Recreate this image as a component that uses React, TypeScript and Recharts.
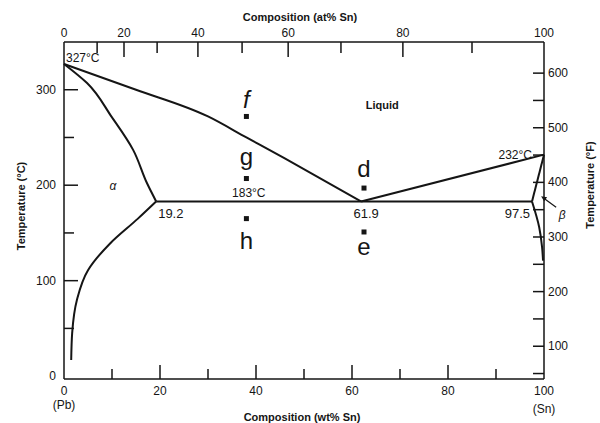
import { ComposedChart, Line, Scatter, XAxis, YAxis, ReferenceDot } from 'recharts';

// Pb–Sn phase diagram, composition in wt% Sn, temperature in °C
const LIQUIDUS_PB = [
  { w: 0, t: 327 }, { w: 15, t: 300 }, { w: 30, t: 272 }, { w: 38, t: 250 }, { w: 46, t: 228 }, { w: 61.9, t: 183 },
];
const SOLIDUS_PB = [
  { w: 0, t: 327 }, { w: 4.8, t: 307 }, { w: 10, t: 271 }, { w: 14.4, t: 237 }, { w: 17.3, t: 202 }, { w: 19.2, t: 183 },
];
const SOLVUS_PB = [
  { w: 19.2, t: 183 }, { w: 15.4, t: 165 }, { w: 9.6, t: 139 }, { w: 5, t: 111 }, { w: 2.7, t: 80 }, { w: 1.7, t: 45 }, { w: 1.5, t: 17 },
];
const LIQUIDUS_SN = [{ w: 61.9, t: 183 }, { w: 100, t: 232 }];
const SOLIDUS_SN = [{ w: 100, t: 232 }, { w: 97.5, t: 183 }];
const SOLVUS_SN = [{ w: 97.5, t: 183 }, { w: 99, t: 156 }, { w: 99.6, t: 135 }, { w: 99.8, t: 121 }];
const EUTECTIC = [{ w: 19.2, t: 183 }, { w: 97.5, t: 183 }];

const POINTS = [
  { w: 38, t: 272, id: 'f' },
  { w: 38, t: 207, id: 'g' },
  { w: 38, t: 165, id: 'h' },
  { w: 62.5, t: 197, id: 'd' },
  { w: 62.5, t: 151, id: 'e' },
];

// axis ticks
const WT_TICKS = [0, 10, 20, 30, 40, 50, 60, 70, 80, 90, 100];
const C_TICKS = [0, 50, 100, 150, 200, 250, 300];
const F_TICKS = [50, 100, 150, 200, 250, 300, 350, 400, 450, 500, 550, 600];
const F_RANGE = [{ w: 0, t: 40 }, { w: 100, t: 657 }];
const AT_LABELS = [0, 10, 20, 30, 40, 50, 60, 70, 80, 90, 100];
const AT_TICK_POS = [0, 6.9, 12.5, 19.4, 27.9, 37.1, 46.7, 57.7, 70.6, 85, 100]; // wt% where each at% tick sits

const FONT = '"Liberation Sans", Arial, sans-serif';
const INK = '#151515';

const BottomTick = ({ x, y, payload }: any) => {
  const v = payload.value;
  const major = v % 20 === 0;
  return (
    <g>
      {v > 0 && v < 100 && <line x1={x} x2={x} y1={y} y2={y - (major ? 14 : 10)} stroke={INK} strokeWidth={1.5} />}
      {major && <text x={x} y={y + 16} textAnchor="middle" fontSize={12} fontFamily={FONT} fill={INK}>{v}</text>}
      {v === 0 && <text x={x} y={y + 30} textAnchor="middle" fontSize={12} fontFamily={FONT} fill={INK}>(Pb)</text>}
      {v === 100 && <text x={x} y={y + 34} textAnchor="middle" fontSize={12} fontFamily={FONT} fill={INK}>(Sn)</text>}
    </g>
  );
};

const TopTick = ({ x, y, payload }: any) => {
  const i = AT_TICK_POS.indexOf(payload.value);
  const v = AT_LABELS[i];
  const major = v % 20 === 0;
  return (
    <g>
      {v > 0 && v < 100 && <line x1={x} x2={x} y1={y} y2={y + (major ? 15 : 11)} stroke={INK} strokeWidth={1.5} />}
      {major && <text x={x} y={y - 5} textAnchor="middle" fontSize={12} fontFamily={FONT} fill={INK}>{v}</text>}
    </g>
  );
};

const LeftTick = ({ x, y, payload }: any) => {
  const v = payload.value;
  const major = v % 100 === 0;
  return (
    <g>
      {v > 0 && <line x1={x} x2={x + (major ? 14 : 10)} y1={y} y2={y} stroke={INK} strokeWidth={1.5} />}
      {major && <text x={x - 8} y={y + 4} textAnchor="end" fontSize={12} fontFamily={FONT} fill={INK}>{v}</text>}
    </g>
  );
};

const RightTick = ({ x, y, payload }: any) => {
  const v = payload.value;
  const major = v % 100 === 0;
  return (
    <g>
      <line x1={x} x2={x - 11} y1={y} y2={y} stroke={INK} strokeWidth={1.5} />
      {major && <text x={x + 4} y={y + 4} textAnchor="start" fontSize={12} fontFamily={FONT} fill={INK}>{v}</text>}
    </g>
  );
};

const LETTER_DY: Record<string, number> = { f: -8, g: -14, d: -11, h: 30, e: 23 };

const PointMark = ({ cx, cy, payload }: any) => (
  <g>
    <rect x={cx - 2.5} y={cy - 2.5} width={5} height={5} fill={INK} />
    <text
      x={cx}
      y={cy + LETTER_DY[payload.id]}
      textAnchor="middle"
      fontSize={24}
      fontFamily={FONT}
      fontStyle={payload.id === 'f' ? 'italic' : 'normal'}
      fill={INK}
    >
      {payload.id}
    </text>
  </g>
);

const note = (text: string, dx: number, dy: number, anchor: string, size = 12, extra: any = {}) =>
  ({ cx, cy }: any) => (
    <text x={cx + dx} y={cy + dy} textAnchor={anchor} fontSize={size} fontFamily={FONT} fill={INK} {...extra}>
      {text}
    </text>
  );

const BetaArrow = ({ cx, cy }: any) => (
  <g>
    <line x1={cx + 15} y1={cy + 11} x2={cx + 2} y2={cy + 1.5} stroke={INK} strokeWidth={1.2} />
    <polygon points={`${cx},${cy} ${cx + 6},${cy + 1} ${cx + 3},${cy + 5}`} fill={INK} />
    <text x={cx + 21} y={cy + 23} textAnchor="middle" fontSize={12} fontStyle="italic" fontFamily={FONT} fill={INK}>β</text>
  </g>
);

const lineProps = {
  xAxisId: 'wt',
  yAxisId: 'c',
  dataKey: 't',
  stroke: INK,
  strokeWidth: 2,
  dot: false,
  activeDot: false,
  isAnimationActive: false,
} as const;

export default function App() {
  return (
    <div style={{ position: 'absolute', left: 0, top: 0, background: '#fff' }}>
      <ComposedChart width={600} height={423} margin={{ top: 22, right: 16, bottom: 14, left: 24 }}>
        <XAxis
          xAxisId="wt"
          dataKey="w"
          type="number"
          domain={[0, 100]}
          ticks={WT_TICKS}
          interval={0}
          height={30}
          tickSize={0}
          tickMargin={0}
          tickLine={false}
          tick={BottomTick}
          axisLine={{ stroke: INK, strokeWidth: 1.5 }}
        />
        <XAxis
          xAxisId="at"
          orientation="top"
          dataKey="w"
          type="number"
          domain={[0, 100]}
          ticks={AT_TICK_POS}
          interval={0}
          height={20}
          tickSize={0}
          tickMargin={0}
          tickLine={false}
          tick={TopTick}
          axisLine={{ stroke: INK, strokeWidth: 1.5 }}
        />
        <YAxis
          yAxisId="c"
          dataKey="t"
          type="number"
          domain={[-3, 350]}
          ticks={C_TICKS}
          interval={0}
          width={40}
          tickSize={0}
          tickMargin={0}
          tickLine={false}
          tick={LeftTick}
          axisLine={{ stroke: INK, strokeWidth: 1.5 }}
        />
        <YAxis
          yAxisId="f"
          orientation="right"
          dataKey="t"
          type="number"
          domain={[40, 657]}
          ticks={F_TICKS}
          interval={0}
          width={40}
          tickSize={0}
          tickMargin={0}
          tickLine={false}
          tick={RightTick}
          axisLine={{ stroke: INK, strokeWidth: 1.5 }}
        />

        {/* invisible series so the at% and °F axes get a scale */}
        <Line xAxisId="at" yAxisId="f" dataKey="t" data={F_RANGE} stroke="none" dot={false} activeDot={false} isAnimationActive={false} />

        <Line {...lineProps} data={LIQUIDUS_PB} type="monotone" />
        <Line {...lineProps} data={SOLIDUS_PB} type="monotoneY" />
        <Line {...lineProps} data={SOLVUS_PB} type="monotoneY" />
        <Line {...lineProps} data={LIQUIDUS_SN} type="linear" />
        <Line {...lineProps} data={SOLIDUS_SN} type="linear" />
        <Line {...lineProps} data={SOLVUS_SN} type="monotoneY" />
        <Line {...lineProps} data={EUTECTIC} type="linear" />

        <Scatter xAxisId="wt" yAxisId="c" data={POINTS} dataKey="t" shape={PointMark} isAnimationActive={false} />

        <ReferenceDot xAxisId="wt" yAxisId="c" x={0} y={327} r={0} ifOverflow="visible" shape={note('327°C', 2, -2, 'start')} />
        <ReferenceDot xAxisId="wt" yAxisId="c" x={66.3} y={280} r={0} ifOverflow="visible" shape={note('Liquid', 0, 0, 'middle', 11, { fontWeight: 'bold' })} />
        <ReferenceDot xAxisId="wt" yAxisId="c" x={100} y={232} r={0} ifOverflow="visible" shape={note('232°C', -12, 4, 'end')} />
        <ReferenceDot xAxisId="wt" yAxisId="c" x={10.2} y={195} r={0} ifOverflow="visible" shape={note('α', 0, 0, 'middle', 12, { fontStyle: 'italic' })} />
        <ReferenceDot xAxisId="wt" yAxisId="c" x={38.5} y={183} r={0} ifOverflow="visible" shape={note('183°C', 0, -4, 'middle')} />
        <ReferenceDot xAxisId="wt" yAxisId="c" x={19.2} y={183} r={0} ifOverflow="visible" shape={note('19.2', 2, 17, 'start', 13)} />
        <ReferenceDot xAxisId="wt" yAxisId="c" x={61.9} y={183} r={0} ifOverflow="visible" shape={note('61.9', 5, 17, 'middle', 13)} />
        <ReferenceDot xAxisId="wt" yAxisId="c" x={97.5} y={183} r={0} ifOverflow="visible" shape={note('97.5', -2, 17, 'end', 13)} />
        <ReferenceDot xAxisId="wt" yAxisId="c" x={99.4} y={188.5} r={0} ifOverflow="visible" shape={BetaArrow} />

        <text x={300} y={21} textAnchor="middle" fontSize={11} fontWeight="bold" fontFamily={FONT} fill={INK}>Composition (at% Sn)</text>
        <text x={302} y={421} textAnchor="middle" fontSize={11} fontWeight="bold" fontFamily={FONT} fill={INK}>Composition (wt% Sn)</text>
        <text x={21} y={206} transform="rotate(-90 21 206)" dy={4} textAnchor="middle" fontSize={11} fontWeight="bold" fontFamily={FONT} fill={INK}>Temperature (°C)</text>
        <text x={590} y={185} transform="rotate(-90 590 185)" dy={4} textAnchor="middle" fontSize={11} fontWeight="bold" fontFamily={FONT} fill={INK}>Temperature (°F)</text>
      </ComposedChart>
    </div>
  );
}
